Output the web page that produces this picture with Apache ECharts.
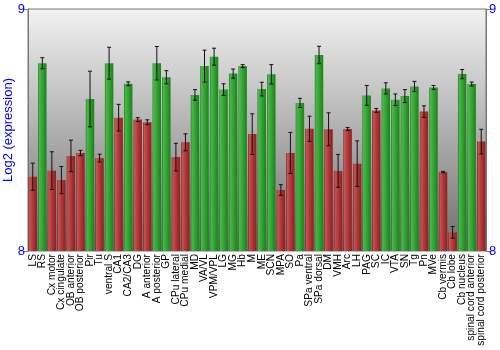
<!DOCTYPE html>
<html><head><meta charset="utf-8">
<script src="https://cdn.jsdelivr.net/npm/echarts@6/dist/echarts.min.js"></script>
<style>html,body{margin:0;padding:0;background:#fff}#c{width:500px;height:350px}</style>
</head><body><div id="c"></div>
<script>
const categories = ["LS","RS","Cx motor","Cx cingulate","OB anterior","OB posterior","Pir","Tu","ventral S","CA1","CA2/CA3","DG","A anterior","A posterior","GP","CPu lateral","CPu medial","MD","VA/VL","VPM/VPL","LG","MG","Hb","M","ME","SCN","MPA","SO","Pa","SPa ventral","SPa dorsal","DM","VMH","Arc","LH","PAG","SC","IC","VTA","SN","Tg","Pn","MVe","Cb vermis","Cb lobe","Cb nucleus","spinal cord anterior","spinal cord posterior"];
const values = [8.307,8.776,8.332,8.293,8.393,8.405,8.628,8.384,8.776,8.551,8.691,8.543,8.532,8.776,8.718,8.388,8.449,8.645,8.764,8.803,8.667,8.733,8.764,8.483,8.669,8.730,8.252,8.405,8.612,8.505,8.810,8.503,8.331,8.504,8.361,8.643,8.581,8.672,8.625,8.640,8.680,8.576,8.676,8.326,8.077,8.731,8.690,8.452];
const errors = [0.056,0.023,0.078,0.056,0.065,0.011,0.115,0.016,0.066,0.055,0.008,0.008,0.010,0.069,0.027,0.057,0.035,0.022,0.066,0.035,0.024,0.019,0.006,0.084,0.028,0.040,0.022,0.085,0.019,0.052,0.036,0.068,0.068,0.006,0.094,0.041,0.008,0.023,0.024,0.027,0.021,0.024,0.008,0.003,0.024,0.019,0.008,0.051];
const groups = ["r","g","r","r","r","r","g","r","g","r","g","r","r","g","g","r","r","g","g","g","g","g","g","r","g","g","r","r","g","r","g","r","r","r","r","g","r","g","g","g","g","r","g","r","r","g","g","r"];
const yTicks = [8, 9];

const redG = new echarts.graphic.LinearGradient(0,0,1,0,[{offset:0,color:'#7a1818'},{offset:0.12,color:'#c65555'},{offset:0.45,color:'#b43c3c'},{offset:1,color:'#8c2020'}]);
const greenG = new echarts.graphic.LinearGradient(0,0,1,0,[{offset:0,color:'#1a6e1a'},{offset:0.12,color:'#4cb84c'},{offset:0.45,color:'#36a836'},{offset:1,color:'#1c801c'}]);

const chart = echarts.init(document.getElementById('c'), null, {renderer:'canvas'});
const yAx = (pos) => ({
  type:'value', min:yTicks[0], max:yTicks[yTicks.length-1], interval:1, position:pos,
  name: pos==='left' ? 'Log2 (expression)' : '', nameLocation:'middle', nameGap:13, nameMoveOverlap:false,
  nameTextStyle:{color:'#0000ff', fontSize:13, fontFamily:'Liberation Sans'},
  axisLine:{show:true, lineStyle:{color:'#777'}},
  axisTick:{show:true, length:5, lineStyle:{color:'#777'}},
  axisLabel:{color:'#0000ff', fontSize:13, fontFamily:'Liberation Sans', margin:3},
  splitLine:{show:false}
});
chart.setOption({
  animation:false,
  grid:{left:28, right:14, top:9, bottom:99, containLabel:false, outerBoundsMode:'none', show:true, borderColor:'#777', borderWidth:1,
    backgroundColor:new echarts.graphic.LinearGradient(0,0,0,1,[{offset:0,color:'#f2f2f2'},{offset:1,color:'#6e6e6e'}])},
  xAxis:{type:'category', data:categories,
    axisLine:{show:false}, axisTick:{show:false},
    axisLabel:{interval:0, rotate:90, color:'#000', fontSize:10.2, fontFamily:'Liberation Sans', margin:3}},
  yAxis:[yAx('left'), yAx('right')],
  series:[
    {type:'bar', data:values.map((v,i)=>({value:v, itemStyle:{color: groups[i]==='r'?redG:greenG}})), barCategoryGap:'12%'},
    {type:'custom', data:values.map((v,i)=>[i, v-errors[i], v+errors[i]]), z:10,
      renderItem:(params, api)=>{
        const lo = api.coord([api.value(0), api.value(1)]);
        const hi = api.coord([api.value(0), api.value(2)]);
        const hw = 2;
        const st = {stroke:'#111', lineWidth:1};
        return {type:'group', children:[
          {type:'line', shape:{x1:lo[0], y1:lo[1], x2:hi[0], y2:hi[1]}, style:st},
          {type:'line', shape:{x1:lo[0]-hw, y1:lo[1], x2:lo[0]+hw, y2:lo[1]}, style:st},
          {type:'line', shape:{x1:hi[0]-hw, y1:hi[1], x2:hi[0]+hw, y2:hi[1]}, style:st}
        ]};
      }}
  ]
});
</script></body></html>
